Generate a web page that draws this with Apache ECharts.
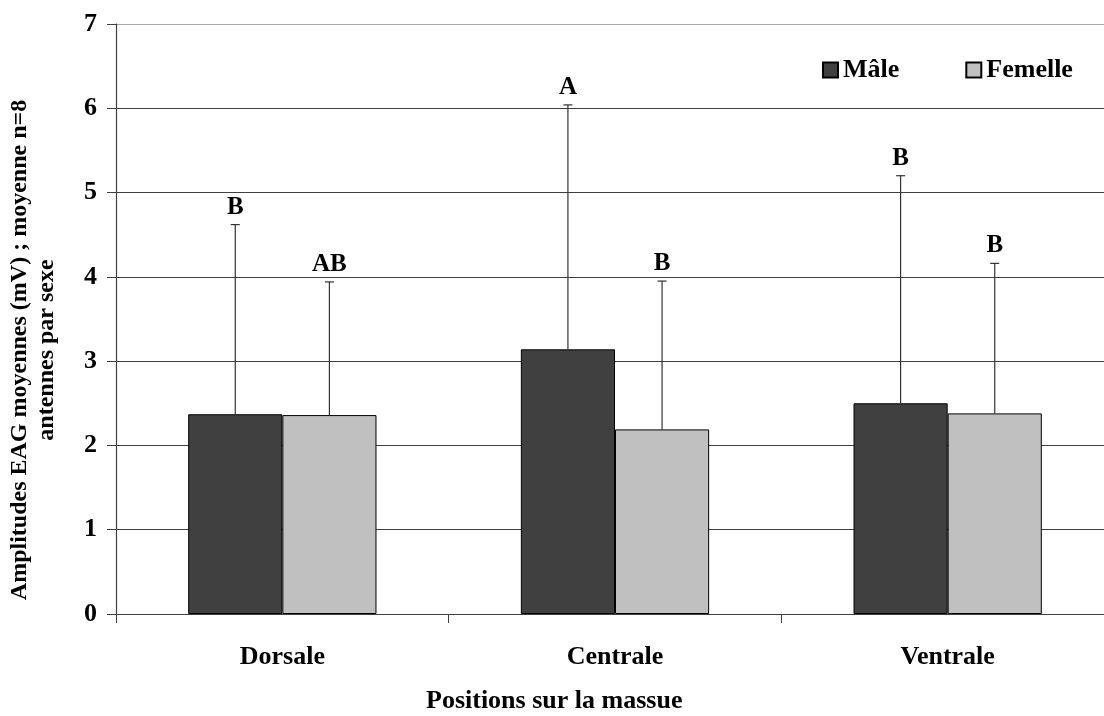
<!DOCTYPE html>
<html>
<head>
<meta charset="utf-8">
<script src="https://cdn.jsdelivr.net/npm/echarts@6/dist/echarts.min.js"></script>
<style>
html,body{margin:0;padding:0;background:#fff;}
#chart{width:1104px;height:716px;}
</style>
</head>
<body>
<div id="chart"></div>
<script>
var categories = ['Dorsale', 'Centrale', 'Ventrale'];
var maleMeans = [2.37, 3.14, 2.50];
var maleErrTop = [4.62, 6.04, 5.20];
var maleLetters = ['B', 'A', 'B'];
var femaleMeans = [2.36, 2.19, 2.38];
var femaleErrTop = [3.94, 3.95, 4.16];
var femaleLetters = ['AB', 'B', 'B'];
var yTicks = [0, 1, 2, 3, 4, 5, 6, 7];

var FONT = '"Liberation Serif", "Times New Roman", serif';
var BAR_FRAC = 0.283;

function errData(tops, letters) {
  return tops.map(function (t, i) { return [i, t, letters[i]]; });
}
function makeRender(means, sign) {
  return function (params, api) {
    var idx = api.value(0);
    var top = api.value(1);
    var catW = api.size([1, 0])[0];
    var off = sign * catW * BAR_FRAC / 2;
    var pTop = api.coord([idx, top]);
    var pBot = api.coord([idx, means[idx]]);
    var x = pTop[0] + off;
    var style = { stroke: '#333', lineWidth: 1.2 };
    return {
      type: 'group',
      children: [
        { type: 'line', shape: { x1: x, y1: pBot[1], x2: x, y2: pTop[1] }, style: style },
        { type: 'line', shape: { x1: x - 4.5, y1: pTop[1], x2: x + 4.5, y2: pTop[1] }, style: style },
        { type: 'text', x: x, y: pTop[1] - 5,
          style: { text: api.value(2), fill: '#000', font: 'bold 25px ' + FONT, align: 'center', verticalAlign: 'bottom' } }
      ]
    };
  };
}

var chart = echarts.init(document.getElementById('chart'));
var gridColors = yTicks.map(function (v, i) { return i === yTicks.length - 1 ? '#a8a8a8' : '#404040'; });
chart.setOption({
  animation: false,
  backgroundColor: '#fff',
  textStyle: { fontFamily: FONT },
  grid: { left: 116, width: 998, top: 24, bottom: 102, containLabel: false, outerBoundsMode: 'none' },
  legend: {
    left: 817, top: 52,
    itemWidth: 15, itemHeight: 15, itemGap: 66,
    icon: 'rect',
    textStyle: { fontFamily: FONT, fontWeight: 'bold', fontSize: 26, color: '#000' },
    data: ['Mâle', 'Femelle']
  },
  xAxis: {
    type: 'category',
    data: categories,
    axisLine: { lineStyle: { color: '#404040', width: 1.2 } },
    axisTick: { show: true, length: 9, lineStyle: { color: '#404040' } },
    axisLabel: { margin: 30, fontFamily: FONT, fontWeight: 'bold', fontSize: 26, color: '#000' }
  },
  yAxis: {
    type: 'value',
    min: 0, max: 7, interval: 1,
    axisLine: { show: true, lineStyle: { color: '#404040', width: 1.2 } },
    axisTick: { show: true, length: 9, lineStyle: { color: '#404040' } },
    axisLabel: { margin: 19, fontFamily: FONT, fontWeight: 'bold', fontSize: 26, color: '#000',
      formatter: function (v) { return yTicks.indexOf(v) >= 0 ? String(v) : ''; } },
    splitLine: { show: true, lineStyle: { color: gridColors, width: 1.2 } }
  },
  graphic: [
    { type: 'text', left: 426, top: 688,
      style: { text: 'Positions sur la massue', font: 'bold 26px ' + FONT, fill: '#000' } },
    { type: 'text', x: 33, y: 350, rotation: Math.PI / 2,
      style: { text: 'Amplitudes EAG moyennes (mV) ; moyenne n=8\nantennes par sexe',
        font: 'bold 24px ' + FONT, fill: '#000', align: 'center', verticalAlign: 'middle', lineHeight: 27 } }
  ],
  series: [
    { name: 'Mâle', type: 'bar', data: maleMeans, barWidth: (BAR_FRAC * 100) + '%', barGap: '0%',
      itemStyle: { color: '#404040', borderColor: '#000', borderWidth: 1 } },
    { name: 'Femelle', type: 'bar', data: femaleMeans, barWidth: (BAR_FRAC * 100) + '%', barGap: '0%',
      itemStyle: { color: '#c0c0c0', borderColor: '#000', borderWidth: 1 } },
    { type: 'custom', renderItem: makeRender(maleMeans, -1), data: errData(maleErrTop, maleLetters), z: 5, clip: false },
    { type: 'custom', renderItem: makeRender(femaleMeans, 1), data: errData(femaleErrTop, femaleLetters), z: 5, clip: false }
  ]
});
</script>
</body>
</html>
